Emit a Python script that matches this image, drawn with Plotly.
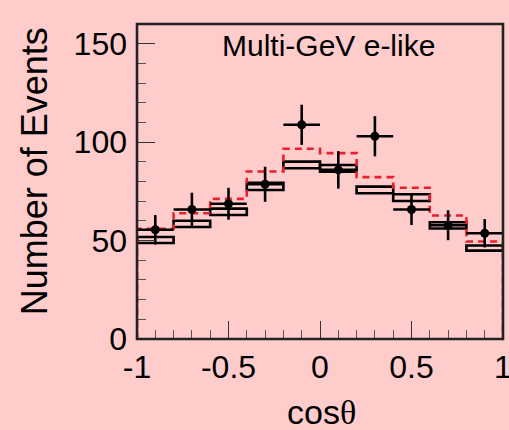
import plotly.graph_objects as go

# ---- data ----
bin_edges = [-1.0, -0.8, -0.6, -0.4, -0.2, 0.0, 0.2, 0.4, 0.6, 0.8, 1.0]
bin_centers = [-0.9, -0.7, -0.5, -0.3, -0.1, 0.1, 0.3, 0.5, 0.7, 0.9]

data_counts = [55.5, 65.8, 68.7, 78.6, 108.8, 85.9, 103.0, 65.8, 57.8, 53.7]
data_errors = [7.5, 8.5, 8.1, 8.9, 10.2, 9.5, 10.2, 7.9, 7.6, 7.2]

mc_osc_center = [50.3, 58.5, 64.6, 77.5, 88.4, 86.7, 75.7, 71.8, 57.7, 46.2]
mc_osc_halfwidth = [1.5, 1.6, 1.6, 1.8, 1.7, 1.7, 1.7, 1.7, 1.6, 1.3]

mc_noosc = [56.0, 63.9, 71.2, 85.1, 96.6, 94.4, 82.2, 76.8, 62.7, 49.5]

x_tickvals = [-1, -0.5, 0, 0.5, 1]
x_ticktext = ["-1", "-0.5", "0", "0.5", "1"]
y_tickvals = [0, 50, 100, 150]
y_ticktext = ["0", "50", "100", "150"]

BG = "#ffcccc"
FONT = "Liberation Sans, Arial, Helvetica, sans-serif"

fig = go.Figure()

bin_width = [(bin_edges[i + 1] - bin_edges[i]) for i in range(len(bin_centers))]

# MC boxes (outline rectangles) via bar with base
fig.add_trace(go.Bar(
    x=bin_centers,
    y=[2 * h for h in mc_osc_halfwidth],
    base=[c - h for c, h in zip(mc_osc_center, mc_osc_halfwidth)],
    width=bin_width,
    marker=dict(color="rgba(0,0,0,0)", line=dict(color="black", width=2.6)),
    showlegend=False, hoverinfo="skip",
))

# red dashed no-oscillation histogram (step)
step_x = [bin_edges[0]] + bin_edges[:-1] + [bin_edges[-1], bin_edges[-1]]
step_y = [0] + mc_noosc + [mc_noosc[-1], 0]
fig.add_trace(go.Scatter(
    x=step_x, y=step_y, mode="lines",
    line=dict(color="#e8202c", width=2.6, dash="7px,5px", shape="hv"),
    showlegend=False, hoverinfo="skip",
))

# data points with error bars
fig.add_trace(go.Scatter(
    x=bin_centers, y=data_counts, mode="markers",
    marker=dict(color="black", size=9),
    error_y=dict(type="data", array=data_errors, color="black", thickness=2.6, width=0),
    error_x=dict(type="data", array=[w / 2 for w in bin_width], color="black", thickness=2.6, width=0),
    showlegend=False,
))

fig.update_layout(
    width=509, height=430,
    margin=dict(l=137, r=6, t=24, b=91, autoexpand=False),
    paper_bgcolor=BG, plot_bgcolor=BG,
    font=dict(family=FONT, color="black"),
    barmode="overlay",
    xaxis=dict(
        range=[-1, 1], showgrid=False, zeroline=False, showline=False, automargin=False,
        tickmode="array", tickvals=x_tickvals, ticktext=x_ticktext,
        ticks="inside", ticklen=18, tickwidth=1, tickcolor="#333",
        minor=dict(dtick=0.1, tick0=-1, ticks="inside", ticklen=9, tickwidth=1, tickcolor="#555"),
        tickfont=dict(size=32, family=FONT, color="black"),
        ticklabelstandoff=6, ticklabeloverflow="allow",
    ),
    yaxis=dict(
        range=[0, 160], showgrid=False, zeroline=False, showline=False, automargin=False,
        tickmode="array", tickvals=y_tickvals, ticktext=y_ticktext,
        ticks="inside", ticklen=18, tickwidth=1, tickcolor="#333",
        minor=dict(dtick=10, tick0=0, ticks="inside", ticklen=9, tickwidth=1, tickcolor="#555"),
        tickfont=dict(size=32, family=FONT, color="black"),
        ticklabelstandoff=9, ticklabeloverflow="allow",
    ),
    shapes=[dict(type="rect", xref="paper", yref="paper", x0=0, x1=1, y0=0, y1=1,
                 line=dict(color="#222", width=2.6), layer="above")],
    annotations=[
        dict(text="Multi-GeV e-like", xref="paper", yref="paper", x=0.522, y=0.933,
             xanchor="center", yanchor="middle", showarrow=False,
             font=dict(size=30, family=FONT, color="black")),
        dict(text="Number of Events", xref="paper", yref="paper", x=-0.279, y=0.532,
             xanchor="center", yanchor="middle", textangle=-90, showarrow=False,
             font=dict(size=36, family=FONT, color="black")),
        dict(text="cos<span style='font-family:Liberation Serif'>θ</span>", xref="paper", yref="paper",
             x=0.503, y=-0.233, xanchor="center", yanchor="middle", showarrow=False,
             font=dict(size=34, family=FONT, color="black")),
    ],
)

fig.write_html("out.html")
